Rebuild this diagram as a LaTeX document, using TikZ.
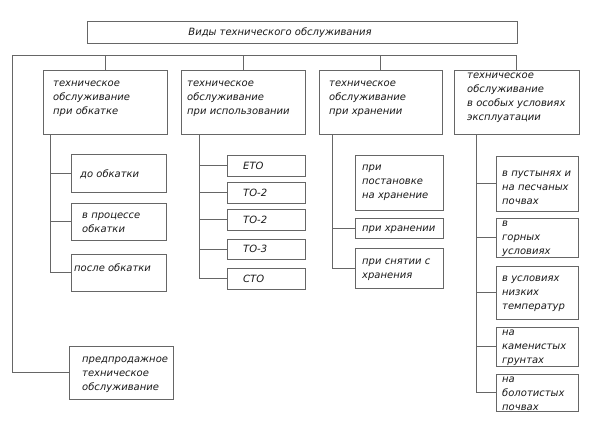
\documentclass[tikz,border=0pt]{standalone}
\usepackage{fontspec}
\setmainfont{DejaVu Sans}
\usepackage{tikz}
\usetikzlibrary{positioning}

\tikzset{
  box/.style 2 args={draw=black!60,line width=1pt,inner sep=0pt,minimum width=#1pt,minimum height=#2pt},
  txt/.style={anchor=west,inner sep=0pt,align=left,text=black!90,font=\fontsize{10}{14}\selectfont\itshape},
  link/.style={draw=black!60,line width=1pt}
}

\begin{document}
\begin{tikzpicture}[x=1pt,y=-1pt]
\useasboundingbox (0,0) rectangle (600,444);
% header
\node[box={430}{22}] (title) at (302,33) {};
\node[txt,anchor=center] (titlet) at (280,33) {Виды технического обслуживания};
% four kinds
\node[box={124}{63}] (c1) at (105,102.5) {};
\node[box={124}{63}] (c2) at (243,102.5) {};
\node[box={123}{63}] (c3) at (380.5,102.5) {};
\node[box={125}{63}] (c4) at (516.5,102.5) {};
\node[txt] (c1t) at (53,98.5) {техническое\\обслуживание\\при обкатке};
\node[txt] (c2t) at (187,98.5) {техническое\\обслуживание\\при использовании};
\node[txt] (c3t) at (329,98.5) {техническое\\обслуживание\\при хранении};
\node[txt] (c4t) at (467,98) {техническое\\обслуживание\\в особых условиях\\эксплуатации};
% run-in
\node[box={95}{38}] (s11) at (118.5,173) {};
\node[box={95}{37}] (s12) at (118.5,221.5) {};
\node[box={95}{37}] (s13) at (118.5,272.5) {};
\node[txt] (s11t) at (80,174) {до обкатки};
\node[txt] (s12t) at (82,223) {в процессе\\обкатки};
\node[txt] (s13t) at (74,268) {после обкатки};
% pre-sale
\node[box={104}{53}] (pre) at (121,372.5) {};
\node[txt] (pret) at (82,374.5) {предпродажное\\техническое\\обслуживание};
% use
\node[box={78}{21}] (s21) at (266,165.5) {};
\node[box={78}{21}] (s22) at (266,192.5) {};
\node[box={78}{21}] (s23) at (266,219.5) {};
\node[box={78}{20}] (s24) at (266,249) {};
\node[box={78}{21}] (s25) at (266,278.5) {};
\node[txt] (s21t) at (243,166) {ЕТО};
\node[txt] (s22t) at (243,193) {ТО-2};
\node[txt] (s23t) at (243,220) {ТО-2};
\node[txt] (s24t) at (243,249) {ТО-3};
\node[txt] (s25t) at (243,279) {СТО};
% storage
\node[box={88}{55}] (s31) at (399,182.5) {};
\node[box={88}{20}] (s32) at (399,228) {};
\node[box={88}{40}] (s33) at (399,268) {};
\node[txt] (s31t) at (362,183) {при\\постановке\\на хранение};
\node[txt] (s32t) at (362,230) {при хранении};
\node[txt] (s33t) at (362,270) {при снятии с\\хранения};
% special conditions
\node[box={82}{55}] (s41) at (537,183.5) {};
\node[box={82}{39}] (s42) at (537,237.5) {};
\node[box={82}{53}] (s43) at (537,292.5) {};
\node[box={82}{39}] (s44) at (537,346.5) {};
\node[box={82}{37}] (s45) at (537,392.5) {};
\node[txt] (s41t) at (502,187.5) {в пустынях и\\на песчаных\\почвах};
\node[txt] (s42t) at (502,239) {в\\горных\\условиях};
\node[txt] (s43t) at (502,293.5) {в условиях\\низких\\температур};
\node[txt] (s44t) at (502,348) {на\\каменистых\\грунтах};
\node[txt] (s45t) at (502,393.5) {на\\болотистых\\почвах};
% connectors
\coordinate (bus) at (12,56);
\coordinate (k1) at (50,134);
\coordinate (k2) at (199,134);
\coordinate (k3) at (332,134);
\coordinate (k4) at (476,134);
\draw[link] (c4.north) |- (bus) |- (pre);
\foreach \c in {c1,c2,c3}
  \draw[link] (\c.north) -- (\c.north |- bus);
\foreach \s in {s11,s12,s13}
  \draw[link] (k1) |- (\s);
\foreach \s in {s21,s22,s23,s24,s25}
  \draw[link] (k2) |- (\s);
\foreach \s in {s32,s33}
  \draw[link] (k3) |- (\s);
\foreach \s in {s41,s42,s43,s44,s45}
  \draw[link] (k4) |- (\s);
\end{tikzpicture}
\end{document}
